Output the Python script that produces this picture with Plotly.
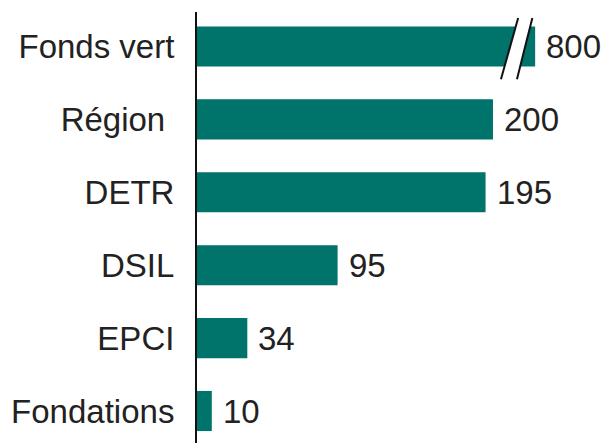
import plotly.graph_objects as go

categories = ["Fonds vert", "Région\u00a0", "DETR", "DSIL", "EPCI", "Fondations"]
values = [800, 200, 195, 95, 34, 10]
value_labels = ["800", "200", "195", "95", "34", "10"]
# Fonds vert bar is drawn truncated (axis break) at this displayed length
display_cap = 228.5
break_marks = [(205.4, 217.0), (216.2, 226.6)]  # (bottom x, top x) of each slash

disp = [min(v, display_cap) for v in values]
ypos = list(range(len(categories)))
teal = "#00736A"
font_family = "Liberation Sans, Arial"

fig = go.Figure()
fig.add_trace(go.Bar(
    x=disp, y=ypos, orientation="h", width=0.55,
    marker=dict(color=teal, line=dict(width=0)),
    hoverinfo="skip",
))

for xv, yv, lab in zip(disp, ypos, value_labels):
    fig.add_annotation(x=xv, y=yv, text=lab, showarrow=False, xanchor="left",
                       yanchor="middle", xshift=9,
                       font=dict(family=font_family, size=33, color="#222222"))

# axis break on the truncated bar
yb, yt = 0.45, -0.39
(b1, t1), (b2, t2) = break_marks
fig.add_shape(type="path", xref="x", yref="y",
              path=f"M {b1},{yb} L {t1},{yt} L {t2},{yt} L {b2},{yb} Z",
              fillcolor="white", line=dict(width=0))
for b, t in break_marks:
    fig.add_shape(type="line", xref="x", yref="y", x0=b, y0=yb, x1=t, y1=yt,
                  line=dict(color="#111111", width=2))

fig.update_layout(
    width=605, height=443,
    margin=dict(l=197, r=0, t=12, b=0),
    paper_bgcolor="white", plot_bgcolor="white",
    showlegend=False,
    xaxis=dict(range=[0, 275.7], visible=False, fixedrange=True),
    yaxis=dict(range=[5.439, -0.473], tickvals=ypos, ticktext=categories,
               showgrid=False, zeroline=False, showline=True,
               linecolor="#111111", linewidth=2, ticks="",
               ticklabelstandoff=14,
               tickfont=dict(family=font_family, size=33, color="#222222")),
)

fig.write_html("out.html")
